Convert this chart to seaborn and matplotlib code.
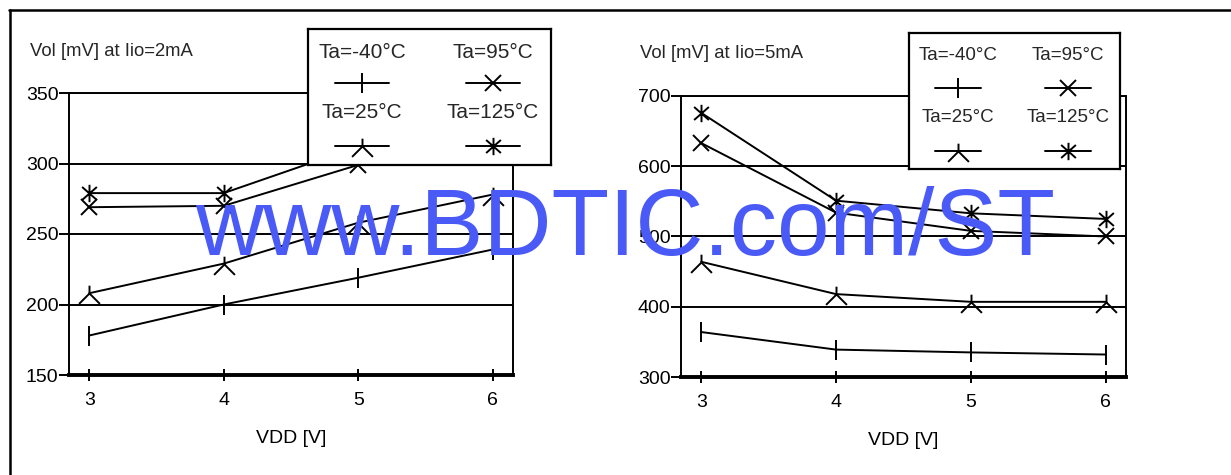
import matplotlib
matplotlib.use("Agg")
import matplotlib.pyplot as plt
from matplotlib.path import Path
from matplotlib.lines import Line2D
from matplotlib import font_manager
import pandas as pd
import seaborn as sns

# ── Data ─────────────────────────────────────────────
vdd = [3, 4, 5, 6]
temps = ["Ta=-40°C", "Ta=25°C", "Ta=95°C", "Ta=125°C"]

vol_2ma_m40 = [178, 200, 219, 239]
vol_2ma_25 = [208, 229, 258, 278]
vol_2ma_95 = [269, 270, 299, 327]
vol_2ma_125 = [279, 279, 312, 339]

vol_5ma_m40 = [364, 339, 335, 332]
vol_5ma_25 = [464, 418, 407, 407]
vol_5ma_95 = [633, 534, 508, 500]
vol_5ma_125 = [676, 551, 533, 525]

yticks_2ma = [150, 200, 250, 300, 350]
yticks_5ma = [300, 400, 500, 600, 700]

# ── Style ────────────────────────────────────────────
W, H = 1231, 475
sns.set_style("white")
names = {f.name for f in font_manager.fontManager.ttflist}
HAS_NARROW = "Liberation Sans Narrow" in names
NARROW = "Liberation Sans Narrow" if HAS_NARROW else "Liberation Sans"
plt.rcParams["font.family"] = [NARROW, "DejaVu Sans"]
FS = 15.5 if HAS_NARROW else 14
FS_TITLE = 15.5 if HAS_NARROW else 13.3
LW = 1.4

M, L = Path.MOVETO, Path.LINETO
TICK = Path([(0, -1), (0, 1)], [M, L])
FORK = Path([(0, 0.75), (0, 0), (-1, -1), (0, 0), (1, -1)], [M, L, L, M, L])
STAR = Path([(0, -1), (0, 1), (-0.85, -0.75), (0.85, 0.75), (-0.85, 0.75), (0.85, -0.75)],
            [M, L, M, L, M, L])
markers = {temps[0]: (TICK, 14), temps[1]: (FORK, 15),
           temps[2]: ("x", 11.5), temps[3]: (STAR, 12.5)}


def make_frame(series):
    rows = []
    for temp, vals in zip(temps, series):
        for v, y in zip(vdd, vals):
            rows.append({"VDD": v, "Vol": y, "Temp": temp})
    return pd.DataFrame(rows)


def draw_panel(ax, df, yticks):
    for temp in temps:
        mk, ms = markers[temp]
        sns.lineplot(data=df[df["Temp"] == temp], x="VDD", y="Vol", ax=ax,
                     color="black", lw=LW, marker=mk, markersize=ms,
                     markeredgecolor="black", markerfacecolor="none",
                     markeredgewidth=LW, legend=False, zorder=3)
    ax.set_xlim(2.85, 6.15)
    ax.set_ylim(yticks[0], yticks[-1])
    ax.set_xticks(vdd)
    ax.set_yticks(yticks)
    ax.yaxis.grid(True, color="black", lw=LW)
    for s in ["top", "right", "left"]:
        ax.spines[s].set_linewidth(LW)
        ax.spines[s].set_color("black")
    ax.spines["bottom"].set_linewidth(2.8)
    ax.spines["bottom"].set_color("black")
    ax.tick_params(axis="x", bottom=True, direction="inout", length=9,
                   width=LW, pad=8, labelsize=FS, colors="black")
    ax.tick_params(axis="y", left=True, direction="out", length=7,
                   width=LW, pad=0.5, labelsize=FS, colors="black")
    ax.set_ylabel("")
    ax.set_xlabel("VDD [V]", fontsize=FS, labelpad=15, color="black")


def draw_legend(fig, box, centers, text_rows, handle_rows, hlen, fs, family):
    x0, y0, x1, y1 = box
    lax = fig.add_axes([x0 / W, 1 - y1 / H, (x1 - x0) / W, (y1 - y0) / H], zorder=5)
    lax.set_xlim(x0, x1)
    lax.set_ylim(y1, y0)
    lax.set_xticks([])
    lax.set_yticks([])
    lax.set_facecolor("white")
    for s in lax.spines.values():
        s.set_linewidth(1.6)
        s.set_color("black")
    for i, temp in enumerate(temps):
        cx = centers[i // 2]
        r = i % 2
        lax.text(cx, text_rows[r], temp, ha="center", va="center",
                 fontsize=fs, family=family)
        lax.plot([cx - hlen / 2, cx + hlen / 2], [handle_rows[r]] * 2,
                 color="black", lw=LW)
        mk, ms = markers[temp]
        lax.plot([cx], [handle_rows[r]], marker=mk, ms=ms, mec="black",
                 mfc="none", mew=LW, ls="none")


fig = plt.figure(figsize=(W / 100, H / 100), dpi=100)
fig.patch.set_facecolor("white")

ax1 = fig.add_axes([69 / W, 1 - 375 / H, 444 / W, 282 / H])
ax2 = fig.add_axes([681 / W, 1 - 377 / H, 445 / W, 281 / H])

draw_panel(ax1, make_frame([vol_2ma_m40, vol_2ma_25, vol_2ma_95, vol_2ma_125]), yticks_2ma)
draw_panel(ax2, make_frame([vol_5ma_m40, vol_5ma_25, vol_5ma_95, vol_5ma_125]), yticks_5ma)

fig.text(30 / W, 1 - 52 / H, "Vol [mV] at Iio=2mA", ha="left", va="center", fontsize=FS_TITLE)
fig.text(640 / W, 1 - 53 / H, "Vol [mV] at Iio=5mA", ha="left", va="center", fontsize=FS_TITLE)

draw_legend(fig, (308, 29, 551, 165), (362, 493), (52, 113), (83, 146), 54,
            15, "Liberation Sans")
draw_legend(fig, (909, 33, 1120, 169), (958, 1068), (55, 118), (88, 151), 46,
            16 if HAS_NARROW else 13.5, NARROW)

# outer frame (top and left edges)
fig.add_artist(Line2D([9 / W, 1], [1 - 10 / H] * 2, color="black", lw=1.8))
fig.add_artist(Line2D([10 / W] * 2, [0, 1 - 10 / H], color="black", lw=1.8))

# watermark, scaled to its width in the scan
wm = fig.text(195 / W, 1 - 255 / H, "www.BDTIC.com/ST", color="#4a5af6",
              fontsize=80, ha="left", va="baseline", zorder=10)
fig.canvas.draw()
bb = wm.get_window_extent()
wm.set_fontsize(80 * 860 / bb.width)

fig.savefig("out.png", dpi=100)
